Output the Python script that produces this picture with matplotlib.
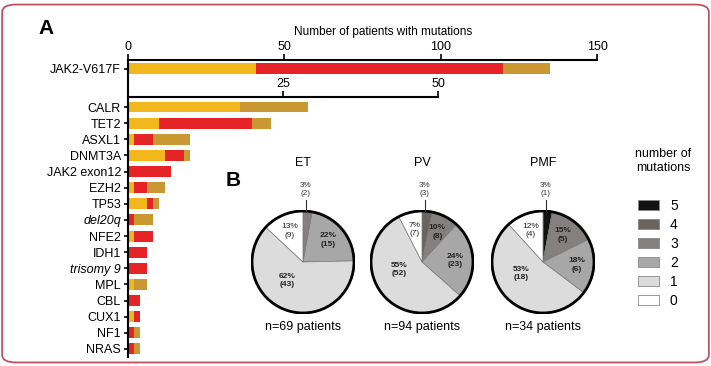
import matplotlib.pyplot as plt
import numpy as np
from matplotlib.patches import FancyBboxPatch, Circle, Patch

plt.rcParams['font.family'] = ['Liberation Sans', 'DejaVu Sans']

W, H = 711, 366

# ---- panel A data: number of patients, split by disease (ET / PV / PMF)
jak2_label = 'JAK2-V617F'
jak2_vals = [41, 79, 15]  # yellow, red, tan

genes = ['CALR', 'TET2', 'ASXL1', 'DNMT3A', 'JAK2 exon12', 'EZH2', 'TP53', 'del20q',
         'NFE2', 'IDH1', 'trisomy 9', 'MPL', 'CBL', 'CUX1', 'NF1', 'NRAS']
italic_genes = ['del20q', 'trisomy 9']
et_counts = [18, 5, 1, 6, 0, 1, 3, 0, 1, 0, 0, 1, 0, 1, 0, 0]
pv_counts = [0, 15, 3, 3, 7, 2, 1, 1, 3, 3, 3, 0, 2, 1, 1, 1]
pmf_counts = [11, 3, 6, 1, 0, 3, 1, 3, 0, 0, 0, 2, 0, 0, 1, 1]

bar_colors = ['#f2b71c', '#e52428', '#c99833']

# ---- panel B data: number of mutations per patient
pie_titles = ['ET', 'PV', 'PMF']
pie_n = [69, 94, 34]
mut_levels = [5, 4, 3, 2, 1, 0]
et_mut = [0, 0, 2, 15, 43, 9]
pv_mut = [0, 3, 8, 23, 52, 7]
pmf_mut = [1, 0, 5, 6, 18, 4]
# percentages as printed in the figure
et_pct = [0, 0, 3, 22, 62, 13]
pv_pct = [0, 3, 10, 24, 55, 7]
pmf_pct = [3, 0, 15, 18, 53, 12]
mut_colors = ['#111111', '#6b645e', '#858080', '#a7a7a7', '#dcdcdc', '#ffffff']


def fig_rect(x0, y_top, x1, y_bot):
    return [x0 / W, 1 - y_bot / H, (x1 - x0) / W, (y_bot - y_top) / H]


fig = plt.figure(figsize=(W / 100, H / 100), dpi=100)

# rounded frame
fig.patches.append(FancyBboxPatch((5 / W, 5 / H), 1 - 10 / W, 1 - 11 / H,
                                  boxstyle='round,pad=0.004,rounding_size=0.02',
                                  transform=fig.transFigure, fill=False,
                                  ec='#c24f63', lw=1.3))

# ---- top row (0-150 scale)
ax_top = fig.add_axes(fig_rect(128, 60, 597, 97))
left = 0
for v, c in zip(jak2_vals, bar_colors):
    ax_top.barh(0, v, left=left, height=0.62, color=c, lw=0)
    left += v
ax_top.set_xlim(0, 150)
ax_top.set_ylim(1.5, -0.45)
ax_top.xaxis.tick_top()
ax_top.set_xticks([0, 50, 100, 150])
ax_top.set_yticks([0], [jak2_label])
for s in ['right', 'bottom']:
    ax_top.spines[s].set_visible(False)
ax_top.spines['top'].set_linewidth(1.5)
ax_top.spines['left'].set_linewidth(1.5)
ax_top.tick_params(axis='x', direction='out', length=4, width=1.2, labelsize=9, pad=1)
ax_top.tick_params(axis='y', length=3, width=1.2, labelsize=9, pad=2)
fig.text(383 / W, 1 - 32 / H, 'Number of patients with mutations', fontsize=8.5,
         ha='center', va='center')

# ---- other genes (0-50 scale)
ax = fig.add_axes(fig_rect(128, 97, 438, 357))
y = np.arange(len(genes))
left = np.zeros(len(genes))
for vals, c in zip([et_counts, pv_counts, pmf_counts], bar_colors):
    ax.barh(y, vals, left=left, height=0.68, color=c, lw=0)
    left += np.array(vals)
ax.set_xlim(0, 50)
ax.set_ylim(len(genes) - 0.5, -0.62)
ax.xaxis.tick_top()
ax.set_xticks([25, 50])
ax.set_yticks(y, genes)
for lab in ax.get_yticklabels():
    if lab.get_text() in italic_genes:
        lab.set_style('italic')
for s in ['right', 'bottom']:
    ax.spines[s].set_visible(False)
ax.spines['top'].set_linewidth(1.5)
ax.spines['left'].set_linewidth(1.5)
ax.tick_params(axis='x', direction='out', length=4, width=1.2, labelsize=9, pad=1)
ax.tick_params(axis='y', length=3, width=1.2, labelsize=9, pad=2)

fig.text(46 / W, 1 - 28 / H, 'A', fontsize=15, fontweight='bold', ha='center', va='center')
fig.text(233 / W, 1 - 180 / H, 'B', fontsize=15, fontweight='bold', ha='center', va='center')

# ---- pies
centers = [303, 422, 543]
cy, r = 262, 52
for cx, title, n, muts, pcts in zip(centers, pie_titles, pie_n,
                                    [et_mut, pv_mut, pmf_mut],
                                    [et_pct, pv_pct, pmf_pct]):
    pax = fig.add_axes(fig_rect(cx - r, cy - r, cx + r, cy + r))
    wedges, _ = pax.pie(muts, colors=mut_colors, startangle=90, counterclock=False,
                        wedgeprops=dict(ec='#777777', lw=0.5))
    pax.add_patch(Circle((0, 0), 1, fill=False, ec='black', lw=2))
    pax.set_xlim(-1.02, 1.02)
    pax.set_ylim(-1.02, 1.02)
    pax.set_aspect('equal')
    pax.axis('off')
    first = True
    for w, v, pct, lvl in zip(wedges, muts, pcts, mut_levels):
        if v == 0:
            continue
        txt = f'{pct}%\n({v})'
        if first:
            # thin top slice: label above the pie with a leader line
            first = False
            pax.plot([0.05, 0.05], [1.0, 1.22], color='#333333', lw=0.8, clip_on=False)
            pax.text(0.05, 1.27, txt, ha='center', va='bottom', fontsize=5.8,
                     linespacing=1.3, color='#333333')
            continue
        ang = (w.theta1 + w.theta2) / 2
        if pct > 40:
            ang, rr = ang - 20, 0.48
        else:
            rr = 0.66
        ang = np.deg2rad(ang)
        pax.text(np.cos(ang) * rr, np.sin(ang) * rr, txt, ha='center', va='center',
                 fontsize=6, linespacing=1.3,
                 fontweight='normal' if lvl == 0 else 'bold', color='#222222')
    fig.text(cx / W, 1 - 163 / H, title, ha='center', va='center', fontsize=9)
    fig.text(cx / W, 1 - 327 / H, f'n={n} patients', ha='center', va='center', fontsize=9)

fig.text(663 / W, 1 - 161 / H, 'number of\nmutations', fontsize=9, ha='center',
         va='center', linespacing=1.15)
handles = [Patch(fc=c, ec='#888888', lw=0.6) for c in mut_colors]
fig.legend(handles, [str(m) for m in mut_levels], loc='upper left',
           bbox_to_anchor=(638 / W, 1 - 199 / H), frameon=False, fontsize=10,
           handlelength=1.5, handleheight=0.8, labelspacing=0.36,
           handletextpad=0.8, borderaxespad=0, borderpad=0)

fig.savefig('out.png', dpi=100)
